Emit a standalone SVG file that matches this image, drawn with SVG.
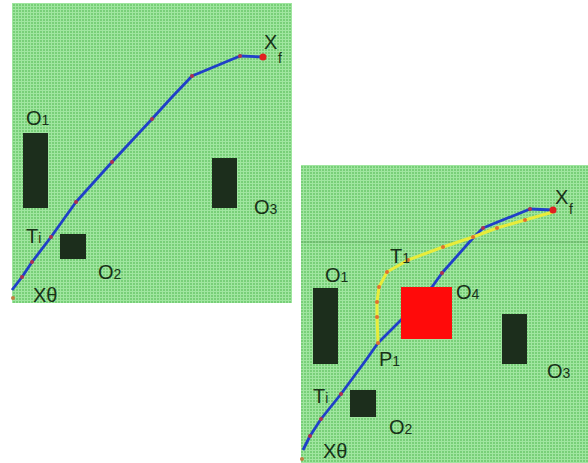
<svg xmlns="http://www.w3.org/2000/svg" width="588" height="463" viewBox="0 0 588 463">
<style>
.lbl{font-family:"Liberation Sans",Arial,sans-serif;font-size:20px;fill:#183218}
.sub{font-size:14px}
.obs{fill:#1c2e1c}
.blue{fill:none;stroke:#2040c8;stroke-width:2.8;stroke-linejoin:round}
.yel{fill:none;stroke:#e8ec3a;stroke-width:3;stroke-linejoin:round}
.dot{fill:#b03050}
.odot{fill:#e07030}
</style>
<defs>
<pattern id="grid" width="3" height="3" patternUnits="userSpaceOnUse">
<rect width="3" height="3" fill="#78cf78"/>
<rect width="3" height="1" fill="#a0e6a0"/>
<rect width="1" height="3" fill="#a0e6a0"/>
</pattern>
</defs>
<rect width="588" height="463" fill="#ffffff"/>
<g id="panel1">
<rect x="12" y="3" width="280" height="300" fill="url(#grid)"/>
<g id="p1-O1"><rect class="obs" x="23" y="133" width="25" height="75"/><text class="lbl" x="26" y="125">O<tspan class="sub">1</tspan></text></g>
<g id="p1-O2"><rect class="obs" x="60" y="234" width="26" height="25"/><text class="lbl" x="98" y="279">O<tspan class="sub">2</tspan></text></g>
<g id="p1-O3"><rect class="obs" x="212" y="158" width="25" height="50"/><text class="lbl" x="254" y="214">O<tspan class="sub">3</tspan></text></g>
<g id="p1-connectors">
<polyline class="blue" points="12,290 22,277 32,262 51,237 76,202 112,162 152,119 172,97 192,76 240,56 263,57"/>
<g class="dot"><circle cx="22" cy="277" r="2"/><circle cx="32" cy="262" r="2"/><circle cx="51" cy="237" r="2"/><circle cx="76" cy="202" r="2"/><circle cx="112" cy="162" r="2"/><circle cx="152" cy="119" r="2"/><circle cx="192" cy="76" r="2"/><circle cx="240" cy="56" r="2"/></g>
<circle cx="263" cy="57" r="3.5" fill="#e02020"/>
<circle cx="13" cy="298" r="2" fill="#c08040"/>
</g>
<g id="p1-labels">
<text class="lbl" x="26" y="243">T<tspan class="sub">i</tspan></text>
<text class="lbl" x="264" y="49" font-size="22">X</text>
<text class="lbl sub" x="278" y="63">f</text>
<text class="lbl" x="33" y="302" font-size="16">Xθ</text>
</g>
</g>
<g id="panel2">
<rect x="301" y="165" width="287" height="298" fill="url(#grid)"/>
<line x1="301" y1="242" x2="588" y2="242" stroke="#5a9a5a" stroke-width="1" opacity="0.6"/>
<g id="p2-O1"><rect class="obs" x="313" y="288" width="25" height="76"/><text class="lbl" x="325" y="282">O<tspan class="sub">1</tspan></text></g>
<g id="p2-O2"><rect class="obs" x="350" y="390" width="26" height="27"/><text class="lbl" x="389" y="434">O<tspan class="sub">2</tspan></text></g>
<g id="p2-O3"><rect class="obs" x="502" y="314" width="25" height="50"/><text class="lbl" x="547" y="378">O<tspan class="sub">3</tspan></text></g>
<g id="p2-connectors">
<polyline class="blue" points="303,450 310,436 321,419 341,394 366,360 378,343 401,320 432,287 442,273 473,238 483,228 530,209 553,210"/>
<polyline class="yel" points="378,343 377,317 377,302 379,287 387,272 408,260 443,247 473,237 497,228 525,220 553,212"/>
<g class="dot"><circle cx="310" cy="436" r="2"/><circle cx="321" cy="419" r="2"/><circle cx="341" cy="394" r="2"/><circle cx="442" cy="273" r="2"/><circle cx="483" cy="228" r="2"/><circle cx="530" cy="209" r="2"/></g>
<g class="odot"><circle cx="378" cy="343" r="2"/><circle cx="377" cy="317" r="2"/><circle cx="377" cy="302" r="2"/><circle cx="379" cy="287" r="2"/><circle cx="387" cy="272" r="2"/><circle cx="408" cy="260" r="2"/><circle cx="443" cy="247" r="2"/><circle cx="473" cy="237" r="2"/><circle cx="497" cy="228" r="2"/><circle cx="525" cy="220" r="2"/></g>
<circle cx="553" cy="210" r="3.5" fill="#e02020"/>
<circle cx="302" cy="459" r="2" fill="#c08040"/>
</g>
<g id="p2-O4"><rect x="401" y="287" width="51" height="52" fill="#ff0a0a"/><text class="lbl" x="456" y="299">O<tspan class="sub">4</tspan></text></g>
<g id="p2-labels">
<text class="lbl" x="390" y="263">T<tspan class="sub">1</tspan></text>
<text class="lbl" x="379" y="366">P<tspan class="sub">1</tspan></text>
<text class="lbl" x="313" y="403">T<tspan class="sub">i</tspan></text>
<text class="lbl" x="555" y="204" font-size="22">X</text>
<text class="lbl sub" x="569" y="214">f</text>
<text class="lbl" x="323" y="458" font-size="16">Xθ</text>
</g>
</g>
</svg>
